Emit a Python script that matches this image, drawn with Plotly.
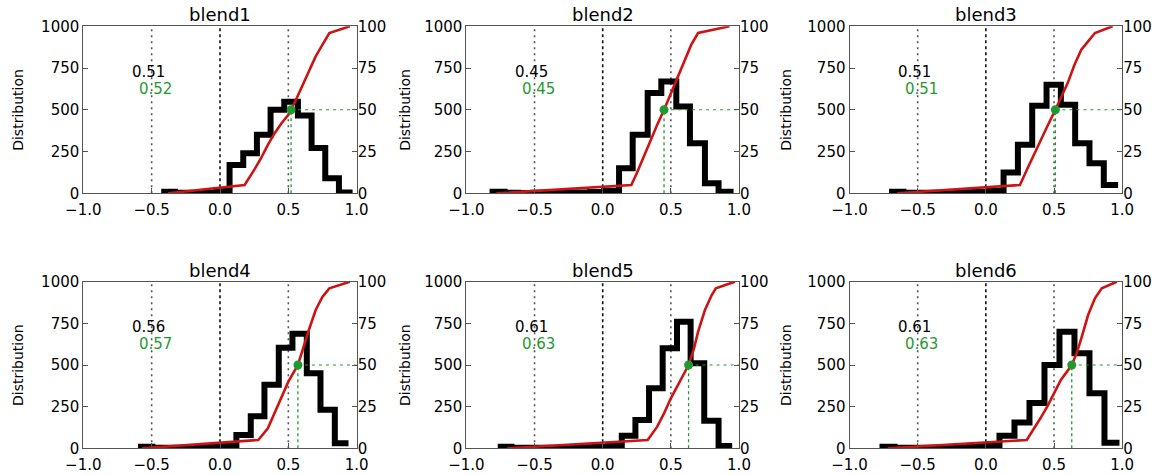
import plotly.graph_objects as go

titles = ["blend1", "blend2", "blend3", "blend4", "blend5", "blend6"]

# histogram bin edges and counts (left axis, Distribution 0-1000)
hist_edges_1 = [-0.43, -0.33, -0.23, -0.13, -0.03, 0.07, 0.17, 0.27, 0.37, 0.47, 0.57, 0.67, 0.77, 0.87, 0.97]
hist_counts_1 = [10, 3, 3, 2, 18, 170, 240, 350, 500, 548, 466, 272, 90, 5]

hist_edges_2 = [-0.83, -0.72, -0.62, -0.51, -0.41, -0.30, -0.20, -0.09, 0.01, 0.12, 0.22, 0.33, 0.43, 0.54, 0.64, 0.75, 0.85, 0.96]
hist_counts_2 = [10, 4, 2, 3, 3, 4, 5, 8, 15, 150, 350, 600, 670, 520, 300, 60, 10]

hist_edges_3 = [-0.71, -0.605, -0.50, -0.395, -0.29, -0.185, -0.08, 0.025, 0.13, 0.235, 0.34, 0.445, 0.55, 0.655, 0.76, 0.865, 0.97]
hist_counts_3 = [10, 3, 3, 4, 5, 6, 8, 15, 125, 290, 525, 650, 530, 300, 180, 50]

hist_edges_4 = [-0.60, -0.495, -0.39, -0.29, -0.19, -0.085, 0.02, 0.12, 0.225, 0.325, 0.43, 0.53, 0.635, 0.735, 0.84, 0.94]
hist_counts_4 = [10, 3, 3, 4, 5, 8, 15, 80, 192, 381, 603, 688, 450, 232, 30]

hist_edges_5 = [-0.77, -0.67, -0.57, -0.47, -0.36, -0.26, -0.16, -0.06, 0.04, 0.14, 0.24, 0.34, 0.44, 0.545, 0.645, 0.745, 0.85, 0.95]
hist_counts_5 = [10, 3, 3, 3, 4, 5, 6, 8, 15, 75, 170, 361, 600, 760, 510, 165, 14]

hist_edges_6 = [-0.78, -0.67, -0.56, -0.45, -0.34, -0.23, -0.12, -0.01, 0.10, 0.21, 0.32, 0.43, 0.54, 0.65, 0.76, 0.87, 0.98]
hist_counts_6 = [10, 3, 3, 3, 4, 5, 8, 15, 75, 155, 272, 500, 700, 570, 331, 34]

# cumulative curves (right axis, percent)
cdf_x_1 = [-0.38, 0.18, 0.25, 0.30, 0.35, 0.40, 0.45, 0.50, 0.55, 0.60, 0.65, 0.70, 0.75, 0.80, 0.95]
cdf_y_1 = [0, 5, 14, 21, 29, 36, 42, 47, 55, 64, 73, 82, 89, 96, 100]
cdf_x_2 = [-0.78, 0.21, 0.25, 0.30, 0.35, 0.40, 0.45, 0.50, 0.55, 0.60, 0.65, 0.70, 0.93]
cdf_y_2 = [0, 5, 12, 22, 32, 41, 50, 60, 70, 80, 89, 96, 100]
cdf_x_3 = [-0.65, 0.25, 0.30, 0.35, 0.40, 0.45, 0.51, 0.55, 0.60, 0.65, 0.70, 0.75, 0.80, 0.93]
cdf_y_3 = [0, 5, 14, 23, 32, 40, 50, 57, 66, 77, 86, 91, 96, 100]
cdf_x_4 = [-0.57, 0.28, 0.35, 0.40, 0.45, 0.50, 0.57, 0.60, 0.65, 0.70, 0.75, 0.80, 0.95]
cdf_y_4 = [0, 5, 12, 21, 31, 40, 50, 58, 71, 83, 91, 96, 100]
cdf_x_5 = [-0.70, 0.33, 0.40, 0.45, 0.50, 0.55, 0.63, 0.67, 0.70, 0.75, 0.80, 0.83, 0.97]
cdf_y_5 = [0, 5, 13, 21, 30, 38, 50, 60, 70, 83, 92, 96, 100]
cdf_x_6 = [-0.72, 0.30, 0.40, 0.45, 0.50, 0.55, 0.63, 0.67, 0.70, 0.75, 0.80, 0.85, 0.96]
cdf_y_6 = [0, 5, 18, 25, 33, 41, 50, 58, 66, 80, 90, 96, 100]

median_black = [0.51, 0.45, 0.51, 0.56, 0.61, 0.61]
median_green = [0.52, 0.45, 0.51, 0.57, 0.63, 0.63]
ref_lines = [-0.5, 0.0, 0.5]
half_level = 50

left_ticks = [0, 250, 500, 750, 1000]
right_ticks = [0, 25, 50, 75, 100]
x_ticks = [-1.0, -0.5, 0.0, 0.5, 1.0]

hist_edges = [hist_edges_1, hist_edges_2, hist_edges_3, hist_edges_4, hist_edges_5, hist_edges_6]
hist_counts = [hist_counts_1, hist_counts_2, hist_counts_3, hist_counts_4, hist_counts_5, hist_counts_6]
cdf_x = [cdf_x_1, cdf_x_2, cdf_x_3, cdf_x_4, cdf_x_5, cdf_x_6]
cdf_y = [cdf_y_1, cdf_y_2, cdf_y_3, cdf_y_4, cdf_y_5, cdf_y_6]

W, H = 1163, 475
col_px = [(83.3, 356.7), (466.4, 739.0), (849.5, 1122.2)]
row_px = [(26.3, 193.3), (281.7, 448.3)]
ylabel_px = [18, 405, 786]

FONT = "DejaVu Sans"
RED = "#cc1414"
GREEN = "#1f9a30"

fig = go.Figure()
layout = dict(width=W, height=H, margin=dict(l=0, r=0, t=0, b=0, autoexpand=False),
              paper_bgcolor="white", plot_bgcolor="white", showlegend=False,
              font=dict(family=FONT, size=15, color="black"))
annotations = []
shapes = []


def ax_name(kind, n):
    return kind + ("" if n == 1 else str(n))


for i in range(6):
    r, c = divmod(i, 3)
    xn = ax_name("x", i + 1)
    yl = ax_name("y", 2 * i + 1)
    yr = ax_name("y", 2 * i + 2)
    xd = [col_px[c][0] / W, col_px[c][1] / W]
    yd = [1 - row_px[r][1] / H, 1 - row_px[r][0] / H]
    layout[ax_name("xaxis", i + 1)] = dict(
        domain=xd, anchor=yl, range=[-1, 1], tickvals=x_ticks, tickformat=".1f",
        showline=True, linecolor="#555", linewidth=1, mirror=True, automargin=False,
        ticks="inside", ticklen=5, tickcolor="#555", showgrid=False, zeroline=False,
        ticklabelstandoff=3, tickfont=dict(family=FONT, size=15))
    layout[ax_name("yaxis", 2 * i + 1)] = dict(
        domain=yd, anchor=xn, range=[0, 1000], tickvals=left_ticks, automargin=False,
        showline=True, linecolor="#555", linewidth=1, mirror=True,
        ticks="inside", ticklen=5, tickcolor="#555", showgrid=False, zeroline=False,
        tickfont=dict(family=FONT, size=15))
    layout[ax_name("yaxis", 2 * i + 2)] = dict(
        overlaying=yl, side="right", anchor=xn, range=[0, 100], tickvals=right_ticks,
        showline=False, ticks="inside", ticklen=5, tickcolor="#555", automargin=False,
        showgrid=False, zeroline=False, tickfont=dict(family=FONT, size=15))

    # reference dotted lines
    for xv in ref_lines:
        shapes.append(dict(type="line", xref=xn, yref=yl + " domain", x0=xv, x1=xv, y0=0, y1=1,
                           layer="below",
                           line=dict(color="#111" if xv == 0 else "#555", width=1.6,
                                     dash="dot" if xv == 0 else "2px,4px")))

    # histogram
    fig.add_trace(go.Scatter(x=hist_edges[i], y=hist_counts[i] + [hist_counts[i][-1]],
                             mode="lines", line=dict(color="black", width=6, shape="hv"),
                             xaxis=xn, yaxis=yl, cliponaxis=False, hoverinfo="skip"))
    # green dotted vertical & dashed horizontal
    m = median_green[i]
    fig.add_trace(go.Scatter(x=[m, m], y=[0, half_level], mode="lines",
                             line=dict(color=GREEN, width=1.3, dash="dot"),
                             xaxis=xn, yaxis=yr, hoverinfo="skip"))
    fig.add_trace(go.Scatter(x=[m, 1.0], y=[half_level, half_level], mode="lines",
                             line=dict(color=GREEN, width=1.1, dash="3px,4px"),
                             xaxis=xn, yaxis=yr, hoverinfo="skip"))
    # cumulative curve
    fig.add_trace(go.Scatter(x=cdf_x[i], y=cdf_y[i], mode="lines",
                             line=dict(color=RED, width=2.6),
                             xaxis=xn, yaxis=yr, hoverinfo="skip"))
    # green dot
    fig.add_trace(go.Scatter(x=[m], y=[half_level], mode="markers",
                             marker=dict(color=GREEN, size=9),
                             xaxis=xn, yaxis=yr, hoverinfo="skip"))

    # texts
    annotations.append(dict(x=-0.52, y=727, xref=xn, yref=yl, text=f"{median_black[i]:.2f}",
                            showarrow=False, xanchor="center", yanchor="middle",
                            font=dict(family=FONT, size=15, color="black")))
    annotations.append(dict(x=-0.47, y=627, xref=xn, yref=yl, text=f"{median_green[i]:.2f}",
                            showarrow=False, xanchor="center", yanchor="middle",
                            font=dict(family=FONT, size=15, color=GREEN)))
    annotations.append(dict(x=0.5, y=1, xref=xn + " domain", yref=yl + " domain",
                            text=titles[i], showarrow=False, xanchor="center",
                            yanchor="bottom", yshift=-1,
                            font=dict(family=FONT, size=18, color="black")))
    annotations.append(dict(x=ylabel_px[c] / W, y=(yd[0] + yd[1]) / 2, xref="paper", yref="paper",
                            text="Distribution", textangle=-90, showarrow=False,
                            xanchor="center", yanchor="middle",
                            font=dict(family=FONT, size=14, color="black")))

layout["annotations"] = annotations
layout["shapes"] = shapes
fig.update_layout(**layout)

fig.write_html("out.html", config={"displayModeBar": False},
               post_script="document.body.style.margin='0';")
